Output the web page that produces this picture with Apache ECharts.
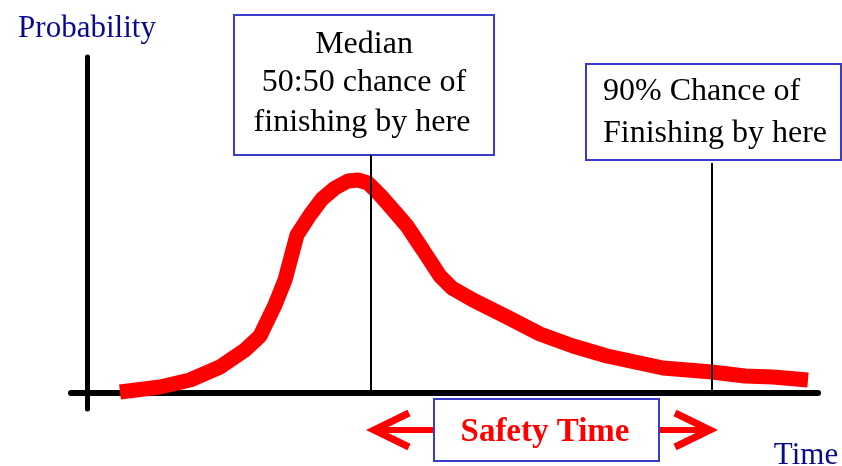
<!DOCTYPE html>
<html>
<head>
<meta charset="utf-8">
<script src="https://cdn.jsdelivr.net/npm/echarts@6/dist/echarts.min.js"></script>
<style>
  html, body { margin: 0; padding: 0; background: #fff; }
  #chart { width: 842px; height: 466px; }
</style>
</head>
<body>
<div id="chart"></div>
<script>
// time (x) and probability (y) along the red curve
var timeVals = [3.3, 7.3, 10.3, 13.3, 15.8, 17.3, 18.8, 19.8, 21.0, 22.3, 23.5, 24.8, 26.1, 27.1, 28.1,
    29.3, 30.8, 32.0, 33.6, 35.3, 36.5, 38.6, 42.0, 45.3, 48.6, 52.0, 57.6, 62.5, 65.8, 68.6, 72.1];
var probVals = [0.1, 0.6, 1.3, 2.6, 4.3, 5.7, 8.8, 11.3, 15.8, 17.8, 19.4, 20.5, 21.2, 21.3, 21.0,
    19.8, 18.1, 16.7, 14.3, 11.7, 10.5, 9.3, 7.6, 5.9, 4.7, 3.7, 2.5, 2.1, 1.7, 1.6, 1.3];
var medianTime = 28.4;   // 50:50
var p90Time = 62.5;      // 90%
var markerTops = [23.8, 23.0];

var serif = '"Liberation Serif", "Times New Roman", serif';
var navy = '#0a0a8c';
var boxBlue = '#3b3bcc';

var curve = [];
for (var i = 0; i < timeVals.length; i++) {
    curve.push([timeVals[i], probVals[i]]);
}

var mychart = echarts.init(document.getElementById('chart'));
var option = {
    animation: false,
    grid: { left: 71, right: 24, top: 57, bottom: 57 },
    xAxis: {
        type: 'value',
        min: -1.6,
        max: 73.1,
        axisLine: { show: true, onZero: true, lineStyle: { color: '#000', width: 6 } },
        axisTick: { show: false },
        axisLabel: { show: false },
        splitLine: { show: false }
    },
    yAxis: {
        type: 'value',
        min: -1.6,
        max: 33.6,
        name: 'Probability',
        nameGap: 13,
        nameTextStyle: { color: navy, fontFamily: serif, fontSize: 31, align: 'center' },
        axisLine: { show: true, onZero: true, lineStyle: { color: '#000', width: 5 } },
        axisTick: { show: false },
        axisLabel: { show: false },
        splitLine: { show: false }
    },
    series: [
        {
            type: 'line',
            data: curve,
            symbol: 'none',
            smooth: false,
            lineStyle: { color: '#ff0000', width: 15 },
            markLine: {
                silent: true,
                symbol: ['none', 'none'],
                label: { show: false },
                lineStyle: { color: '#000', width: 2, type: 'solid' },
                data: [
                    [{ coord: [medianTime, 0] }, { coord: [medianTime, markerTops[0]] }],
                    [{ coord: [p90Time, 0] }, { coord: [p90Time, markerTops[1]] }]
                ]
            }
        }
    ]
};
mychart.setOption(option);

// annotations: boxes and the safety-time arrow
var pMed = mychart.convertToPixel({ gridIndex: 0 }, [medianTime, 0]);
var p90 = mychart.convertToPixel({ gridIndex: 0 }, [p90Time, 0]);
var arrowY = 430;
var leftTip = pMed[0] + 3, rightTip = p90[0] - 2;
var arrowHead = { stroke: '#ff0000', lineWidth: 7, fill: null };
var arrowShaft = { stroke: '#ff0000', lineWidth: 6, fill: null };
var boxText = '32px ' + serif;

mychart.setOption({
    graphic: [
        // median box
        { type: 'rect', shape: { x: 234, y: 15, width: 260, height: 140 },
          style: { fill: '#fff', stroke: boxBlue, lineWidth: 2 } },
        { type: 'text', x: 364, y: 45, style: { text: 'Median', font: boxText, fill: '#000', textAlign: 'center', textVerticalAlign: 'middle' } },
        { type: 'text', x: 364, y: 83, style: { text: '50:50 chance of', font: boxText, fill: '#000', textAlign: 'center', textVerticalAlign: 'middle' } },
        { type: 'text', x: 362, y: 123, style: { text: 'finishing by here', font: boxText, fill: '#000', textAlign: 'center', textVerticalAlign: 'middle' } },
        // 90% box
        { type: 'rect', shape: { x: 586, y: 64, width: 255, height: 96 },
          style: { fill: '#fff', stroke: boxBlue, lineWidth: 2 } },
        { type: 'text', x: 603, y: 92, style: { text: '90% Chance of', font: boxText, fill: '#000', textAlign: 'left', textVerticalAlign: 'middle' } },
        { type: 'text', x: 603, y: 134, style: { text: 'Finishing by here', font: boxText, fill: '#000', textAlign: 'left', textVerticalAlign: 'middle' } },
        // safety time
        { type: 'polyline', shape: { points: [[leftTip + 35, arrowY - 17], [leftTip, arrowY], [leftTip + 35, arrowY + 17]] }, style: arrowHead },
        { type: 'line', shape: { x1: leftTip, y1: arrowY, x2: 434, y2: arrowY }, style: arrowShaft },
        { type: 'polyline', shape: { points: [[rightTip - 35, arrowY - 17], [rightTip, arrowY], [rightTip - 35, arrowY + 17]] }, style: arrowHead },
        { type: 'line', shape: { x1: 659, y1: arrowY, x2: rightTip, y2: arrowY }, style: arrowShaft },
        { type: 'rect', shape: { x: 434, y: 399, width: 225, height: 62 },
          style: { fill: '#fff', stroke: boxBlue, lineWidth: 2 } },
        { type: 'text', x: 545, y: 432, style: { text: 'Safety Time', font: 'bold 33px ' + serif, fill: '#ff0000', textAlign: 'center', textVerticalAlign: 'middle' } },
        // x axis title
        { type: 'text', x: 806, y: 456, style: { text: 'Time', font: '31px ' + serif, fill: navy, textAlign: 'center', textVerticalAlign: 'middle' } }
    ]
});
</script>
</body>
</html>
